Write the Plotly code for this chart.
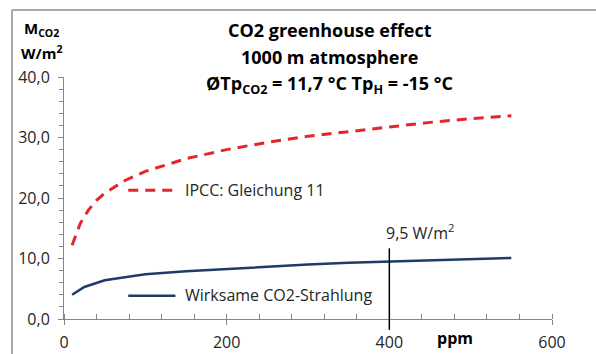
import plotly.graph_objects as go

# CO2 concentration (ppm) and radiative forcing (W/m²)
ppm_ipcc = [10, 20, 30, 40, 50, 75, 100, 150, 200, 250, 300, 350, 400, 450, 500, 550]
ipcc_gl11 = [12.2, 15.8, 18.0, 19.6, 20.8, 22.9, 24.4, 26.5, 28.0, 29.2, 30.2, 31.0, 31.8, 32.5, 33.1, 33.6]

ppm_eff = [10, 25, 50, 100, 150, 200, 250, 300, 350, 400, 450, 500, 550]
wirksam = [4.0, 5.3, 6.4, 7.4, 7.9, 8.3, 8.7, 9.0, 9.3, 9.5, 9.7, 9.9, 10.1]

marker_ppm = 400
marker_label = "9,5 W/m<sup>2</sup>"

x_ticks = [0, 200, 400, 600]
y_ticks = [0, 10, 20, 30, 40]

RED = "#e4262c"
BLUE = "#1f3c68"
FONT = "Open Sans"
TXT = "#262626"
AX = "#868686"

fig = go.Figure()
fig.add_trace(go.Scatter(x=ppm_ipcc, y=ipcc_gl11, mode="lines",
                         line=dict(color=RED, width=3, dash="10px,7px"),
                         showlegend=False, hoverinfo="skip"))
fig.add_trace(go.Scatter(x=ppm_eff, y=wirksam, mode="lines",
                         line=dict(color=BLUE, width=2.5),
                         showlegend=False, hoverinfo="skip"))

shapes = [
    # legend sample lines
    dict(type="line", xref="x", yref="y", x0=79, x1=135, y0=21.3, y1=21.3,
         line=dict(color=RED, width=3, dash="10px,7px")),
    dict(type="line", xref="x", yref="y", x0=79, x1=137, y0=3.85, y1=3.85,
         line=dict(color=BLUE, width=2.5)),
    # marker at today's concentration
    dict(type="line", xref="x", yref="paper", x0=marker_ppm, x1=marker_ppm,
         y0=-0.045, y1=0.292, line=dict(color="#000000", width=1.5)),
    # chart frame (top and left edges)
    dict(type="line", xref="paper", yref="paper", x0=-0.1066, x1=1.1, y0=1.2769, y1=1.2769,
         line=dict(color="#a8a8a8", width=2)),
    dict(type="line", xref="paper", yref="paper", x0=-0.1066, x1=-0.1066, y0=1.2769, y1=-0.2,
         line=dict(color="#a8a8a8", width=2)),
]

ann = []
title_lines = [
    ("CO2 greenhouse effect", 1.194),
    ("1000 m atmosphere", 1.083),
    ("ØTp<sub>CO2</sub> = 11,7 °C Tp<sub>H</sub> = -15 °C", 0.967),
]
for txt, yy in title_lines:
    ann.append(dict(text=f"<b>{txt}</b>", xref="paper", yref="paper", x=0.545, y=yy,
                    xanchor="center", yanchor="middle", showarrow=False,
                    font=dict(family=FONT, size=18, color="#000000")))
ann += [
    dict(text="<b>M<sub>CO2</sub></b>", xref="paper", yref="paper", x=-0.047, y=1.197,
         xanchor="center", yanchor="middle", showarrow=False,
         font=dict(family=FONT, size=15, color="#000000")),
    dict(text="<b>W/m<sup>2</sup></b>", xref="paper", yref="paper", x=-0.047, y=1.101,
         xanchor="center", yanchor="middle", showarrow=False,
         font=dict(family=FONT, size=15, color="#000000")),
    dict(text="<b>ppm</b>", xref="paper", yref="paper", x=0.801, y=-0.08,
         xanchor="center", yanchor="middle", showarrow=False,
         font=dict(family=FONT, size=16, color="#000000")),
    dict(text="IPCC: Gleichung 11", xref="x", yref="y", x=146, y=21.3,
         xanchor="left", yanchor="middle", showarrow=False,
         font=dict(family=FONT, size=16, color=TXT)),
    dict(text="Wirksame CO2-Strahlung", xref="x", yref="y", x=146, y=3.95,
         xanchor="left", yanchor="middle", showarrow=False,
         font=dict(family=FONT, size=16, color=TXT)),
    dict(text=marker_label, xref="x", yref="y", x=438, y=14.3,
         xanchor="center", yanchor="middle", showarrow=False,
         font=dict(family=FONT, size=16, color=TXT)),
]

fig.update_layout(
    width=596, height=354,
    margin=dict(l=64, r=44, t=77, b=35, autoexpand=False),
    paper_bgcolor="white", plot_bgcolor="white",
    separators=", ",
    shapes=shapes, annotations=ann,
    font=dict(family=FONT, size=16, color=TXT),
)
fig.update_xaxes(
    range=[0, 600], tickvals=x_ticks, ticktext=[str(v) for v in x_ticks],
    showgrid=False, zeroline=False, showline=True, linecolor=AX, linewidth=1,
    ticks="outside", ticklen=5, tickcolor=AX, ticklabelstandoff=4, automargin=False,
    minor=dict(ticks="inside", dtick=40, tick0=0, ticklen=5, tickcolor=AX, showgrid=False),
    tickfont=dict(family=FONT, size=16, color=TXT), fixedrange=True,
)
fig.update_yaxes(
    range=[0, 40], tickvals=y_ticks, tickformat=".1f",
    showgrid=False, zeroline=False, showline=True, linecolor=AX, linewidth=1,
    ticks="outside", ticklen=5, tickcolor=AX, ticklabelstandoff=5, automargin=False,
    minor=dict(ticks="outside", dtick=2, tick0=0, ticklen=4, tickcolor=AX, showgrid=False),
    tickfont=dict(family=FONT, size=16, color=TXT), fixedrange=True,
)

fig.write_html("out.html", config=dict(displayModeBar=False))
